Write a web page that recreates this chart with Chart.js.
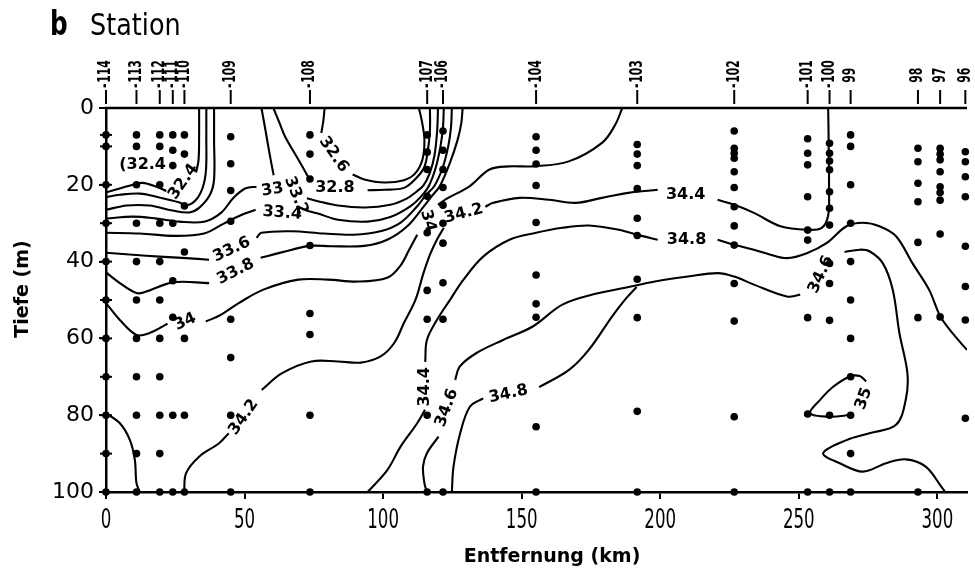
<!DOCTYPE html>
<html>
<head>
<meta charset="utf-8">
<script src="https://cdn.jsdelivr.net/npm/chart.js@4.4.1/dist/chart.umd.min.js"></script>
<style>
  html, body { margin: 0; padding: 0; background: #fff; }
  #wrap { width: 975px; height: 575px; }
</style>
</head>
<body>
<div id="wrap"><canvas id="section" width="975" height="575"></canvas></div>
<script>
// Stations along the section (distance in km) and their sampling depths (m)
const stationNames = ['114','113','112','111','110','109','108','107','106','104','103','102','101','100','99','98','97','96'];
const stationKm    = [0, 11, 19.4, 24.1, 28.3, 45, 73.6, 115.9, 121.6, 155.2, 191.7, 226.7, 253.2, 261.1, 268.7, 293, 301, 310.1];
const stationDash  = [1,1,1,1,1,1,1,1,1,1,1,1,1,1,0,0,0,0];

const sampleDepths = [
  [7,10,20,30,40,50,60,70,80,90,100],
  [7,10,20,30,40,50,60,70,80,90,100],
  [7,10,20,30,40,50,60,70,80,90,100],
  [7,11,15,30,45,54.5,80,100],
  [7,12,25.5,37.5,60,80,100],
  [7.5,14.5,21.5,29.5,55,65,80,100],
  [7,12,18.5,35.8,53.5,59,80,100],
  [7,11.5,16,23,32.5,47.5,55,80,100],
  [6,11,16,20.7,25.3,30,35.2,45.5,55,100],
  [7.5,11,14.6,20.2,29.8,43.5,51,54.5,83,100],
  [9.5,12,15,21,28.7,33.2,44.6,54.6,79,100],
  [6,10.5,11.8,13.1,16.6,20.7,25.7,30.7,35.7,45.7,55.5,80.4,100],
  [8,11.8,14.8,23.1,31.8,34.4,54.6,79.7,100],
  [9.2,11.8,13.8,16.1,21.8,26.1,30.5,40.5,45.7,55.3,80,100],
  [7,10,20,30,40,50,60,70,80,90,100],
  [10.5,14,19.6,24.4,35,54.6,100],
  [10.5,12,13.5,16.6,20.5,22,24,32.8,54.4],
  [11.4,14,17.9,23.1,36,46.5,55.2,80.8]
];

// Axis ticks
const xTickValues = [0, 50, 100, 150, 200, 250, 300];
const yTickValues = [0, 20, 40, 60, 80, 100];

// Salinity isolines: each one is a list of pieces, each piece a list of [km, depth]
const iso324 = [
  [[0,22],[9.7,20],[13.2,19.5],[18.2,20.5],[21.8,21.6]],
  [[32.5,16.8],[33.4,13.5],[33.6,7],[33.6,0]]
];
const iso326West = [
  [[0,23.2],[5,22.6],[12.2,22.3],[19.3,23.3],[26.5,24.6],[29,25.4],[32.5,23.9],[35,20.5],[36.1,16],[36.2,8.2],[36.2,0]]
];
const iso328West = [
  [[0,26.5],[7.5,25.4],[15.7,25.4],[24,26.7],[30,27.2],[33.6,26],[37.5,22.6],[39,18.6],[39,8.2],[39,0]]
];
const iso326Core = [
  [[78.9,0],[78.4,3.5],[77.7,6.5]],
  [[89,17.3],[93.2,18.6],[100.4,19.4],[107.5,18.8],[111.5,17.1],[114.2,13.4],[114.9,8.2],[114,3.5],[112.9,0]]
];
const iso328Core = [
  [[60.4,0],[62.5,3.7],[64.6,7.4],[69.4,13.4],[72.9,17.9]],
  [[94.4,21.4],[100.4,21.3],[107.5,20.8],[111.5,18.6],[114.8,15.5],[116.2,10.8],[116.9,5.6],[116.9,0]]
];
const iso330 = [
  [[0,28.8],[9.7,28.3],[18.2,28.8],[26.5,29.6],[35.4,29.6],[41.5,27.3],[46.1,23.3],[50.4,20.9],[54.3,20.5]],
  [[72.5,23.5],[76.5,24.3],[83.7,25.4],[93.3,25.9],[102.6,25.2],[108.5,23.6],[112,21.8],[114.5,20.2],[116.8,17],[118.5,12.5],[119.5,6],[119.8,0]],
  [[56.1,0],[57.5,5.6],[59.2,12.6],[60.5,17.5]]
];
const iso332 = [
  [[0,32.5],[12.2,32.7],[24.7,33.3],[35.4,32.7],[42.5,30.1],[49,27.8],[54,26.5]],
  [[72.2,26.7],[76.5,27.5],[83.7,29.1],[94.4,29.6],[102.6,28.4],[109.8,25.6],[113.5,23.2],[116.5,20.3],[119,15.5],[120.7,10],[121.6,5],[121.9,0]]
];
const iso336 = [
  [[0,37.7],[9.7,38.2],[19.3,38.7],[29,39.1],[37.2,39.5]],
  [[54.3,33.8],[56.1,32.5],[66.9,32.1],[78.7,32.7],[89.4,33],[99,32.1],[106.2,29.9],[112.3,25.6],[115.5,22.6],[118.5,20.3],[121.5,15.5],[123.5,10],[124.5,5],[124.8,0]]
];
const iso338 = [
  [[0,42.8],[5,45.6],[11,48.2],[14.5,47.8],[24.1,45.4],[37.2,45.6]],
  [[55.8,39],[63.3,37.6],[73.5,35.9],[81.2,36],[93.2,35.9],[101.5,34.3],[108.7,30.8],[114.7,25.6],[117.5,23],[120.5,20.3],[124.1,14.3],[126.8,8.5],[128.2,4],[128.7,0]]
];
const iso340 = [
  [[0,50.8],[5,55.2],[11,59.1],[15.7,58.6],[22.2,56.2]],
  [[36,55.6],[40.8,54.1],[47.9,50.8],[56.8,47.3],[69.4,44.7],[80.1,44.7],[90.8,45.2],[101.5,44.2],[106.2,41.1],[109.4,36.9],[112.3,33]],
  [[119.8,25.2],[123,23.6],[131.2,20.4],[138.4,16],[145.5,15.2],[154.1,15.2],[167,13.9],[179.1,9],[183.8,4.3],[186.3,0]]
];
const iso342 = [
  [[28.2,100],[28.9,95.1],[33.6,90.8],[40.8,87.3],[44.3,84.7]],
  [[56.2,73.4],[63.4,69.1],[74.1,66],[83.7,66],[92,66.3],[99.1,64.7],[104,61.2],[107.5,56],[111.7,49.9],[114.4,43.4],[116.9,38.2],[119.4,34.3],[121.9,31.2]],
  [[136.9,25.7],[139.7,24.7],[149.2,23.4],[159.9,23.9],[169.5,24.7],[179,23.4],[188.5,22.1],[199.1,21.3]],
  [[220.7,23.9],[226.7,25.2],[233.8,27.3],[243.4,30.8],[252.9,31.7],[258.3,31.2],[260.6,28],[260.9,21.3],[260.8,10],[260.6,0]]
];
const iso342West = [
  [[0,79.5],[5,82.1],[8.6,86.4],[10.4,91.6],[11,97.7],[12.2,100]]
];
const iso344 = [
  [[94.4,100],[101.5,94.3],[106.3,88.2],[112.3,82.1],[115.1,78.6]],
  [[115.2,66.1],[115.8,60.4],[119.4,55.2],[124.2,49.9],[129,44.7],[136.1,38.7],[145.6,34.3],[155.2,32.5],[164.7,31.2],[174.2,30.6],[185,31.7],[193.3,33.3],[199.1,34.3]],
  [[220.7,34.3],[226.7,35.6],[233.8,36.9],[239.8,38.2],[245.7,39.1],[252.9,37.8],[260,35.2],[267.2,30.8],[273.1,29.9],[279.1,30.8],[285.1,33.4],[291,40.4],[297,47.3],[301.1,54.3],[306,59.1],[310.7,63]]
];
const iso346 = [
  [[115.8,100],[114.9,97.7],[114.4,93.4],[115.8,89.9],[120,85.6]],
  [[126,70.8],[127.7,67.3],[133.7,63.8],[143.3,60.4],[154,56.9],[164.7,51.2],[176.6,48.4],[187.4,46.8],[198.1,45.2],[210,43.9],[220.7,43],[226.7,43.9],[233.8,46],[245.7,49.1],[250.5,48.6]],
  [[266.5,37.5],[272,36.9],[275.5,37.3],[280.3,40.4],[283.9,47.3],[286.3,58.6],[289.2,69.1],[288.6,76],[285.1,82.5],[275.5,84.7],[267.2,86.5],[258.8,89.9],[264.8,92.5],[273.1,94.7],[281.5,92.5],[288.6,91.5],[295.8,93.4],[301.8,99],[302.8,100]]
];
const iso348 = [
  [[124.8,100],[125.4,93.4],[127.8,84.7],[131.3,77.8],[136.1,75.6]],
  [[156.3,72.7],[167.1,68.2],[174.2,63],[182.6,54.3],[187.3,49.9],[191.5,46.6]]
];
const iso350 = [
  [[274.3,71.2],[272,69.8],[268.4,69.9],[262.4,72.6],[257.7,76],[254.1,79.5],[261.2,80.4],[268.9,79.9]]
];

const isolines = [iso324, iso326West, iso328West, iso326Core, iso328Core, iso330, iso332,
                  iso336, iso338, iso340, iso342, iso342West, iso344, iso346, iso348, iso350];

// Inline isoline labels: value, position (km, depth) and text angle in degrees
const isoLabels = [
  {value: 32.4, km: 13.2, depth: 14.7, angle: 0, prefix: '('},
  {value: 32.4, km: 27.9, depth: 19.2, angle: -55},
  {value: 32.6, km: 82.2, depth: 12.1, angle: 55},
  {value: 32.8, km: 82.6, depth: 20.7, angle: 0},
  {value: 33,   km: 60.1, depth: 21.3, angle: -10},
  {value: 33.2, km: 68.6, depth: 22.8, angle: 68},
  {value: 33.4, km: 63.6, depth: 27.4, angle: 5},
  {value: 33.6, km: 45.4, depth: 36.9, angle: -25},
  {value: 33.8, km: 46.8, depth: 42.6, angle: -27},
  {value: 34,   km: 28.6, depth: 55.7, angle: -25},
  {value: 34,   km: 116.2, depth: 29.4, angle: 75},
  {value: 34.2, km: 129.1, depth: 27.5, angle: -15},
  {value: 34.2, km: 49.7, depth: 80.5, angle: -55},
  {value: 34.4, km: 209.2, depth: 22.6, angle: 0},
  {value: 34.8, km: 209.5, depth: 34.3, angle: 0},
  {value: 34.4, km: 115.1, depth: 72.6, angle: -90},
  {value: 34.6, km: 123, depth: 78.1, angle: -70},
  {value: 34.8, km: 145.2, depth: 74.5, angle: -12},
  {value: 34.6, km: 258, depth: 43.4, angle: -65},
  {value: 35,   km: 273.5, depth: 75.7, angle: -70}
];

const fmtValue = v => Number.isInteger(v) ? String(v) : v.toFixed(1);

// Build datasets
const datasets = [];
isolines.forEach(line => line.forEach(piece => {
  datasets.push({
    data: piece.map(([km, d]) => ({x: km, y: d})),
    showLine: true,
    borderColor: '#000',
    borderWidth: 2.1,
    pointRadius: 0,
    tension: 0.35,
    fill: false
  });
}));

const samplePoints = [];
stationKm.forEach((km, i) => sampleDepths[i].forEach(d => samplePoints.push({x: km, y: d})));
datasets.push({
  data: samplePoints,
  showLine: false,
  pointRadius: 3.8,
  pointBackgroundColor: '#000',
  pointBorderWidth: 0,
  clip: false
});
// short marks for the samples on the coast station
datasets.push({
  data: sampleDepths[0].filter(d => d < 100).map(d => ({x: stationKm[0], y: d})),
  showLine: false,
  pointStyle: 'line',
  pointRadius: 6,
  pointBorderColor: '#000',
  pointBorderWidth: 2,
  clip: false
});

const FONT = "'DejaVu Sans', 'Liberation Sans', sans-serif";

const annotate = {
  id: 'annotate',
  afterDraw(chart) {
    const {ctx, chartArea: a, scales: {x, y}} = chart;
    ctx.save();
    ctx.fillStyle = '#000';
    ctx.strokeStyle = '#000';

    // top frame
    ctx.lineWidth = 2.5;
    ctx.beginPath();
    ctx.moveTo(a.left - 1.2, a.top);
    ctx.lineTo(a.right, a.top);
    ctx.stroke();

    // station ticks and numbers
    ctx.lineWidth = 2;
    ctx.font = 'bold 17px ' + FONT;
    ctx.textBaseline = 'middle';
    ctx.textAlign = 'left';
    const dashW = ctx.measureText('-').width;
    stationKm.forEach((km, i) => {
      const px = x.getPixelForValue(km);
      ctx.beginPath();
      ctx.moveTo(px, a.top - 18);
      ctx.lineTo(px, a.top - 4);
      ctx.stroke();
      ctx.save();
      ctx.translate(px, a.top - 20);
      ctx.rotate(-Math.PI / 2);
      ctx.scale(0.64, 1);
      if (stationDash[i]) ctx.fillText('-', 0, 0);
      ctx.fillText(stationNames[i], dashW + 1, 0);
      ctx.restore();
    });

    // isoline labels
    ctx.font = 'bold 16px ' + FONT;
    ctx.textAlign = 'center';
    ctx.textBaseline = 'middle';
    isoLabels.forEach(l => {
      ctx.save();
      ctx.translate(x.getPixelForValue(l.km), y.getPixelForValue(l.depth));
      ctx.rotate(l.angle * Math.PI / 180);
      ctx.fillText((l.prefix || '') + fmtValue(l.value), 0, 0);
      ctx.restore();
    });

    // distance tick numbers (narrow digits)
    ctx.font = '26px ' + FONT;
    ctx.textAlign = 'center';
    ctx.textBaseline = 'alphabetic';
    x.ticks.forEach(t => {
      ctx.save();
      ctx.translate(x.getPixelForValue(t.value), a.bottom + 36);
      ctx.scale(0.64, 1);
      ctx.fillText(String(t.value), 0, 0);
      ctx.restore();
    });

    // axis titles
    ctx.font = 'bold 19px ' + FONT;
    ctx.textAlign = 'center';
    ctx.fillText('Entfernung (km)', 552, 562);
    ctx.save();
    ctx.translate(28, 289);
    ctx.rotate(-Math.PI / 2);
    ctx.fillText('Tiefe (m)', 0, 0);
    ctx.restore();

    // panel letter and heading
    ctx.textAlign = 'left';
    ctx.save();
    ctx.translate(50, 35);
    ctx.scale(0.75, 1);
    ctx.font = 'bold 33px ' + FONT;
    ctx.fillText('b', 0, 0);
    ctx.restore();
    ctx.save();
    ctx.translate(90, 35);
    ctx.scale(0.85, 1);
    ctx.font = '30px ' + FONT;
    ctx.fillText('Station', 0, 0);
    ctx.restore();

    ctx.restore();
  }
};

new Chart(document.getElementById('section'), {
  type: 'scatter',
  data: {datasets},
  options: {
    responsive: false,
    devicePixelRatio: 1,
    animation: false,
    events: [],
    layout: {padding: {top: 108, left: 0, right: 0, bottom: 0}},
    plugins: {legend: {display: false}, tooltip: {enabled: false}},
    scales: {
      x: {
        type: 'linear',
        position: 'bottom',
        min: 0,
        max: 310.7,
        afterBuildTicks: s => { s.ticks = xTickValues.map(v => ({value: v})); },
        afterFit: s => { s.height = 83; },
        grid: {display: true, drawOnChartArea: false, drawTicks: true, tickLength: 7, color: '#000', lineWidth: 2},
        border: {display: true, color: '#000', width: 2.5},
        ticks: {display: false}
      },
      y: {
        type: 'linear',
        position: 'left',
        reverse: true,
        min: 0,
        max: 100,
        afterBuildTicks: s => { s.ticks = yTickValues.map(v => ({value: v})); },
        afterFit: s => { s.width = 106; },
        grid: {display: true, drawOnChartArea: false, drawTicks: true, tickLength: 7, color: '#000', lineWidth: 2},
        border: {display: true, color: '#000', width: 2.5},
        ticks: {color: '#000', padding: 5, font: {family: FONT, size: 22}}
      }
    }
  },
  plugins: [annotate]
});
</script>
</body>
</html>
